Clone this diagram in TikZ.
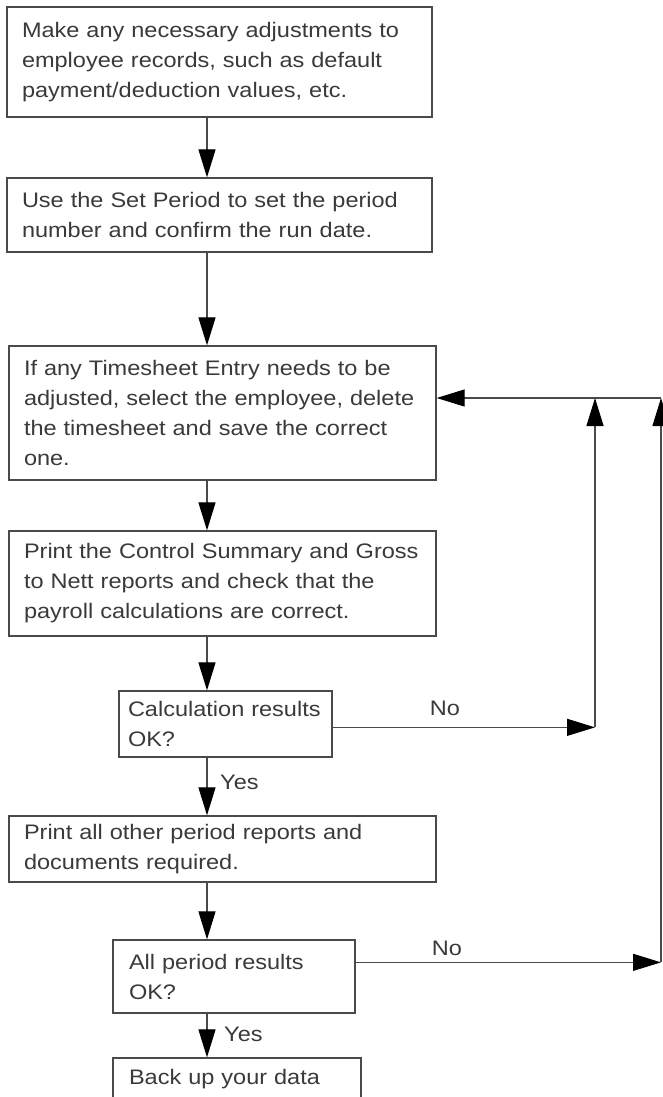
\documentclass[tikz,border=0pt]{standalone}
\usepackage{fontspec}
\setmainfont{Liberation Sans}[FakeStretch=1.12]
\usetikzlibrary{arrows.meta,calc}
\definecolor{ln}{HTML}{4A4A4A}
\definecolor{tx}{HTML}{3A3A3A}
\tikzset{
  box/.style={draw=ln, line width=1.3pt, inner xsep=15pt, inner ysep=0pt, align=left,
    font=\fontsize{21}{30}\selectfont, text=tx, anchor=center},
  arr/.style={draw=ln, line width=1.2pt, -{Triangle[length=28pt,width=17pt,color=black]}},
  plain/.style={draw=ln, line width=1.2pt},
  lbl/.style={font=\fontsize{21}{25}\selectfont, text=tx, inner sep=0pt},
}
\begin{document}
\begin{tikzpicture}[x=1pt,y=-1pt]
\clip (0,0) rectangle (663,1097);
\fill[white] (0,0) rectangle (663,1097);

\node[box, text width=395pt, minimum height=110pt] (b1) at (219.5,62)
  {Make any necessary adjustments to\\employee records, such as default\\payment/deduction values, etc.};
\node[box, text width=395pt, minimum height=74pt] (b2) at (219.5,215)
  {Use the Set Period to set the period\\number and confirm the run date.};
\node[box, text width=397pt, minimum height=134pt] (b3) at (222.5,413)
  {If any Timesheet Entry needs to be\\adjusted, select the employee, delete\\the timesheet and save the correct\\one.};
\node[box, text width=397pt, minimum height=105pt] (b4) at (222.5,583.5)
  {Print the Control Summary and Gross\\to Nett reports and check that the\\payroll calculations are correct.};
\node[box, inner xsep=9pt, text width=195pt, minimum height=66pt] (d1) at (225.5,724)
  {Calculation results\\OK?};
\node[box, text width=397pt, minimum height=66pt] (b5) at (222.5,849)
  {Print all other period reports and\\documents required.};
\node[box, inner xsep=16pt, text width=210pt, minimum height=73pt] (d2) at (234,976.5)
  {All period results\\OK?};
\node[box, inner xsep=16pt, text width=216pt, minimum height=42pt] (b6) at (237,1079)
  {Back up your data};

\coordinate (ax) at (207,0);
\coordinate (r1) at (595,398);
\coordinate (r2) at (661,398);

\draw[arr] (b1.south -| ax) -- (b2.north -| ax);
\draw[arr] (b2.south -| ax) -- (b3.north -| ax);
\draw[arr] (b3.south -| ax) -- (b4.north -| ax);
\draw[arr] (b4.south -| ax) -- (d1.north -| ax);
\draw[arr] (d1.south -| ax) -- (b5.north -| ax);
\draw[arr] (b5.south -| ax) -- (d2.north -| ax);
\draw[arr] (d2.south -| ax) -- (b6.north -| ax);

\draw[arr] (r2) -- (b3.east |- r2);
\coordinate (e1) at ($(d1.north east)+(0,37)$);
\draw[arr] (e1) -- (e1 -| r1);
\draw[arr] (e1 -| r1) -- (r1);
\coordinate (e2) at ($(d2.north east)+(0,23)$);
\draw[arr] (e2) -- (e2 -| r2);
\draw[arr] (e2 -| r2) -- (r2);

\node[lbl] (no1) at (445,708) {No};
\node[lbl] (no2) at (447,948) {No};
\node[lbl, anchor=west] (y1) at (220,782) {Yes};
\node[lbl, anchor=west] (y2) at (224,1034) {Yes};
\end{tikzpicture}
\end{document}
